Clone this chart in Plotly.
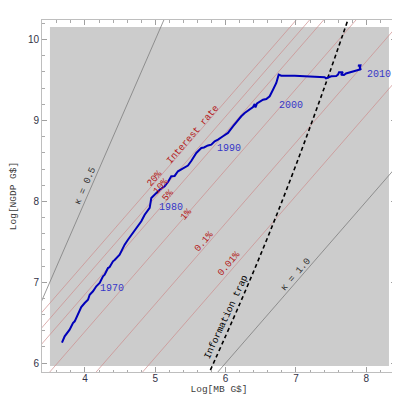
import plotly.graph_objects as go

# ---------------- data ----------------
log_mb = [3.673, 3.711, 3.782, 3.829, 3.854, 3.925, 3.947, 3.996, 4.043, 4.067,
          4.114, 4.161, 4.209, 4.256, 4.280, 4.327, 4.351, 4.398, 4.422, 4.493,
          4.516, 4.564, 4.611, 4.682, 4.729, 4.801, 4.849, 4.920, 4.943, 4.991,
          5.062, 5.133, 5.180, 5.227, 5.275, 5.322, 5.393, 5.464, 5.511, 5.583,
          5.654, 5.692, 5.749, 5.796, 5.844, 5.891, 5.962, 6.033, 6.104, 6.175,
          6.222, 6.271, 6.342, 6.389, 6.413, 6.424, 6.446, 6.484, 6.531, 6.578,
          6.626, 6.673, 6.720, 6.754, 6.791, 6.982, 7.171, 7.408, 7.427, 7.469,
          7.502, 7.573, 7.597, 7.612, 7.668, 7.640, 7.683, 7.711, 7.882, 7.910,
          7.906, 7.882, 7.917, 7.910, 7.924]
log_ngdp = [6.251, 6.330, 6.412, 6.495, 6.516, 6.659, 6.693, 6.742, 6.783, 6.845,
            6.887, 6.949, 6.990, 7.073, 7.092, 7.175, 7.188, 7.258, 7.274, 7.340,
            7.382, 7.464, 7.525, 7.608, 7.670, 7.753, 7.835, 7.918, 8.041, 8.078,
            8.144, 8.186, 8.239, 8.310, 8.314, 8.372, 8.412, 8.443, 8.499, 8.598,
            8.660, 8.666, 8.691, 8.701, 8.743, 8.763, 8.805, 8.846, 8.928, 9.010,
            9.052, 9.093, 9.134, 9.167, 9.204, 9.161, 9.210, 9.229, 9.257, 9.266,
            9.300, 9.381, 9.464, 9.567, 9.554, 9.554, 9.547, 9.535, 9.520, 9.535,
            9.547, 9.551, 9.567, 9.596, 9.596, 9.567, 9.563, 9.582, 9.629, 9.631,
            9.674, 9.681, 9.683, 9.650, 9.625]

years = ["1970", "1980", "1990", "2000", "2010"]
year_x = [4.384, 5.223, 6.047, 6.922, 8.180]
year_y = [6.928, 7.918, 8.648, 9.186, 9.575]

# interest-rate iso-lines: log NGDP = log MB + offset
rate_labels = ["20%", "10%", "5%", "1%", "0.1%", "0.01%"]
rate_offsets = [3.24, 3.05, 2.85, 2.39, 1.73, 1.07]
rate_label_x = [4.991, 5.074, 5.180, 5.436, 5.692, 6.047]
rate_label_y = [8.280, 8.186, 8.075, 7.843, 7.509, 7.237]

# kappa lines: log NGDP = log MB / kappa
kappas = [0.5, 1.0]
kappa_label_x = [4.007, 7.000]
kappa_label_y = [8.196, 7.092]

# information trap curve
trap_x = [5.74, 6.20, 6.60, 7.00, 7.40, 7.76]
trap_y = [5.83, 6.73, 7.56, 8.45, 9.40, 10.30]

x_range = [3.389, 8.422]
y_range = [5.889, 10.243]
bg_x = [3.502, 8.322]
bg_y = [5.963, 10.157]

# ---------------- figure ----------------
mono = "Liberation Mono, Courier New, monospace"
fig = go.Figure()

line_x = [x_range[0] - 1, x_range[1] + 1]
for d in rate_offsets:
    fig.add_trace(go.Scatter(x=line_x, y=[v + d for v in line_x], mode="lines",
                             line=dict(color="rgb(205,140,140)", width=0.7),
                             hoverinfo="skip", showlegend=False))
for k in kappas:
    fig.add_trace(go.Scatter(x=line_x, y=[v / k for v in line_x], mode="lines",
                             line=dict(color="rgb(125,125,125)", width=0.8),
                             hoverinfo="skip", showlegend=False))

fig.add_trace(go.Scatter(x=trap_x, y=trap_y, mode="lines", line_shape="spline",
                         line=dict(color="black", width=1.6, dash="4px,3px"),
                         hoverinfo="skip", showlegend=False))

fig.add_trace(go.Scatter(x=log_mb, y=log_ngdp, mode="lines",
                         line=dict(color="rgb(0,0,185)", width=2),
                         showlegend=False))

fig.add_shape(type="rect", xref="x", yref="y", x0=bg_x[0], x1=bg_x[1],
              y0=bg_y[0], y1=bg_y[1], fillcolor="rgb(204,204,204)",
              line=dict(width=0), layer="below")

angle_1 = -49
for t, x, y in zip(years, year_x, year_y):
    fig.add_annotation(x=x, y=y, text=t, showarrow=False,
                       font=dict(family=mono, size=10, color="rgb(55,55,200)"))
for t, x, y in zip(rate_labels, rate_label_x, rate_label_y):
    fig.add_annotation(x=x, y=y, text=t, showarrow=False, textangle=angle_1,
                       font=dict(family=mono, size=9.5, color="rgb(180,25,25)"))
fig.add_annotation(x=5.536, y=8.824, text="Interest rate", showarrow=False,
                   textangle=angle_1,
                   font=dict(family=mono, size=9.5, color="rgb(180,25,25)"))
for k, x, y, a in zip(kappas, kappa_label_x, kappa_label_y, [-66.5, angle_1]):
    fig.add_annotation(x=x, y=y, text="κ = %.1f" % k, showarrow=False,
                       textangle=a,
                       font=dict(family=mono, size=9.5, color="rgb(50,50,50)"))
fig.add_annotation(x=6.009, y=6.578, text="Information trap", showarrow=False,
                   textangle=-65,
                   font=dict(family=mono, size=9.5, color="black"))

axis_common = dict(showline=True, linecolor="rgb(190,190,190)", linewidth=1,
                   mirror="allticks", ticks="inside", ticklen=5, tickwidth=1,
                   tickcolor="rgb(160,160,160)", showgrid=False, zeroline=False,
                   dtick=1, automargin=False,
                   minor=dict(ticks="inside", ticklen=2.5, dtick=0.2,
                              tickcolor="rgb(170,170,170)", showgrid=False),
                   tickfont=dict(family="Liberation Sans, Arial, sans-serif",
                                 size=10, color="rgb(50,50,70)"))

fig.update_xaxes(range=x_range, tick0=4, ticklabelstandoff=-3,
                 title=dict(text="Log[MB G$]", standoff=2,
                            font=dict(family=mono, size=9.5, color="rgb(60,60,60)")),
                 **axis_common)
fig.update_yaxes(range=y_range, tick0=6,
                 title=dict(text="Log[NGDP G$]", standoff=13,
                            font=dict(family=mono, size=9.5, color="rgb(60,60,60)")),
                 **axis_common)

fig.update_layout(width=400, height=397, margin=dict(l=34, r=12, t=12, b=33),
                  plot_bgcolor="white", paper_bgcolor="white", showlegend=False)

fig.write_html("out.html")
